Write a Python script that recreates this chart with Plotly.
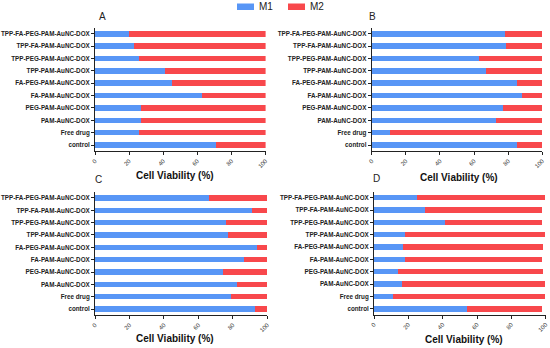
import plotly.graph_objects as go

categories = ["control", "Free drug", "PAM-AuNC-DOX", "PEG-PAM-AuNC-DOX",
              "FA-PAM-AuNC-DOX", "FA-PEG-PAM-AuNC-DOX", "TPP-PAM-AuNC-DOX",
              "TPP-PEG-PAM-AuNC-DOX", "TPP-FA-PAM-AuNC-DOX", "TPP-FA-PEG-PAM-AuNC-DOX"]

a_m1 = [70.7, 25.8, 27.0, 27.0, 62.5, 45.3, 41.2, 25.8, 22.7, 19.9]
a_m2 = [29.3, 74.2, 73.0, 73.0, 37.5, 54.7, 58.8, 74.2, 77.3, 80.1]

b_m1 = [85.0, 10.7, 72.9, 76.8, 88.1, 85.0, 66.8, 62.7, 78.9, 77.9]
b_m2 = [15.0, 89.3, 27.1, 23.2, 11.9, 15.0, 33.2, 37.3, 21.1, 22.1]

c_m1 = [93.0, 79.1, 82.2, 74.3, 86.3, 94.2, 77.2, 76.0, 90.9, 66.0]
c_m2 = [7.0, 20.9, 17.8, 25.7, 13.7, 5.8, 22.8, 24.0, 9.1, 34.0]

d_m1 = [54.4, 10.9, 16.1, 14.0, 17.9, 16.9, 17.9, 41.4, 29.5, 25.0]
d_m2 = [43.3, 88.7, 83.5, 84.6, 79.8, 81.7, 81.7, 56.3, 68.2, 74.6]

panel_labels = ["A", "B", "C", "D"]
x_ticks = [0, 20, 40, 60, 80, 100]
x_title = "Cell Viability (%)"
series_names = ["M1", "M2"]

W, H = 550, 348
BLUE = "rgb(88,150,246)"
RED = "rgb(248,72,76)"

panels = [
    (a_m1, a_m2, (95, 265.6), (27.6, 151.2)),
    (b_m1, b_m2, (371.7, 542.3), (27.6, 151.2)),
    (c_m1, c_m2, (95, 267.3), (191.8, 315.2)),
    (d_m1, d_m2, (374, 545.7), (191.5, 314.9)),
]

fig = go.Figure()
layout = dict(
    width=W, height=H, margin=dict(l=0, r=0, t=0, b=0, autoexpand=False),
    paper_bgcolor="white", plot_bgcolor="white",
    barmode="stack", bargap=0.55, showlegend=False,
    font=dict(family="Liberation Sans, Arial, sans-serif", color="#111"),
)

for i, (m1, m2, (x0, x1), (y0, y1)) in enumerate(panels):
    k = "" if i == 0 else str(i + 1)
    fig.add_trace(go.Bar(y=categories, x=m1, orientation="h", name=series_names[0],
                         marker=dict(color=BLUE, line=dict(width=0)),
                         xaxis="x" + k, yaxis="y" + k))
    fig.add_trace(go.Bar(y=categories, x=m2, orientation="h", name=series_names[1],
                         marker=dict(color=RED, line=dict(width=0)),
                         xaxis="x" + k, yaxis="y" + k))
    layout["xaxis" + k] = dict(
        domain=[x0 / W, x1 / W], range=[0, 100], anchor="y" + k,
        tickvals=x_ticks, ticktext=[str(t) for t in x_ticks],
        tickangle=-45, tickfont=dict(size=6, color="#333"),
        ticks="outside", ticklen=3, tickwidth=1, tickcolor="#222",
        showline=True, linecolor="#222", linewidth=1,
        showgrid=False, zeroline=False, fixedrange=True, automargin=False,
    )
    layout["yaxis" + k] = dict(
        domain=[1 - y1 / H, 1 - y0 / H], anchor="x" + k,
        type="category", categoryorder="array", categoryarray=categories,
        range=[-0.5, 9.5],
        tickfont=dict(size=6.3, color="#222", weight="bold"),
        ticks="outside", ticklen=3, tickwidth=1, tickcolor="#222",
        showline=True, linecolor="#222", linewidth=1,
        showgrid=False, zeroline=False, fixedrange=True, automargin=False,
    )

fig.update_layout(**layout)

annotations = []
letter_pos = [(102, 17), (372, 17), (98, 179), (376.5, 178)]
for lab, (x, y) in zip(panel_labels, letter_pos):
    annotations.append(dict(x=x / W, y=1 - y / H, xref="paper", yref="paper",
                            text=lab, showarrow=False, xanchor="center", yanchor="middle",
                            font=dict(size=10, color="#222")))
title_pos = [(175, 175.5), (459, 177), (175, 338.5), (464, 339)]
for (x, y) in title_pos:
    annotations.append(dict(x=x / W, y=1 - y / H, xref="paper", yref="paper",
                            text=x_title, showarrow=False, xanchor="center", yanchor="middle",
                            font=dict(size=10, color="#111", weight="bold")))

# legend
shapes = []
legend_items = [(series_names[0], BLUE, 237, 254, 257), (series_names[1], RED, 288, 305, 308)]
for name, col, sx0, sx1, tx in legend_items:
    shapes.append(dict(type="rect", xref="paper", yref="paper",
                       x0=sx0 / W, x1=sx1 / W, y0=1 - 10 / H, y1=1 - 3.5 / H,
                       fillcolor=col, line=dict(width=0)))
    annotations.append(dict(x=tx / W, y=1 - 6.8 / H, xref="paper", yref="paper",
                            text=name, showarrow=False, xanchor="left", yanchor="middle",
                            font=dict(size=10, color="#222")))

fig.update_layout(annotations=annotations, shapes=shapes)
fig.write_html("out.html", config={"displayModeBar": False},
               post_script="document.body.style.margin='0';document.body.style.overflow='hidden';")
